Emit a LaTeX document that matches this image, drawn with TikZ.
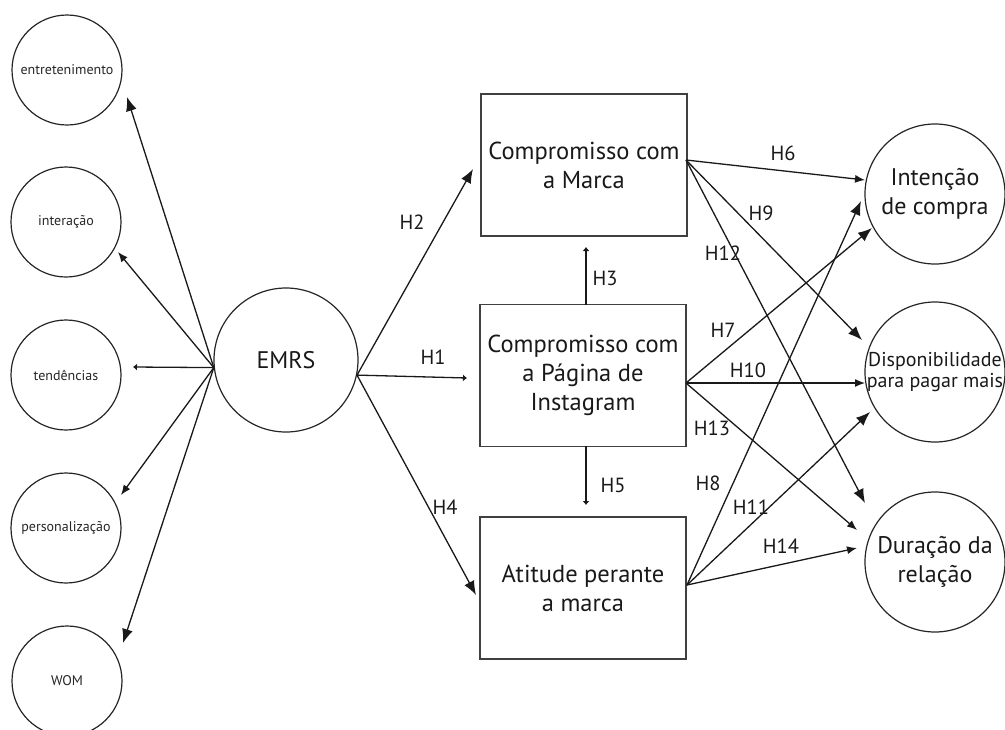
\documentclass[tikz,border=0pt]{standalone}
\usepackage{fontspec}
\setmainfont{PT Sans}
\usetikzlibrary{arrows.meta}
\tikzset{
  smallc/.style={circle, draw=black!85, line width=1.2pt, minimum size=110pt, inner sep=0pt, font=\fontsize{14}{16}\selectfont, text=black!85},
  bigc/.style={circle, draw=black!85, line width=1.2pt, minimum size=140pt, inner sep=0pt, font=\fontsize{24}{29}\selectfont, text=black!90, align=center},
  emrsc/.style={circle, draw=black!85, line width=1.2pt, minimum size=144pt, inner sep=0pt, font=\fontsize{24}{28}\selectfont, text=black!90},
  boxn/.style={rectangle, draw=black!75, line width=1.2pt, minimum width=206pt, minimum height=142pt, inner sep=0pt, font=\fontsize{24.5}{29}\selectfont, text=black!90, align=center},
  hlab/.style={font=\fontsize{20.5}{22}\selectfont, text=black!90, inner sep=0pt},
  arr/.style={line width=1.3pt, draw=black!90, -{Latex[length=14pt,width=11pt]}},
  marr/.style={line width=1.3pt, draw=black!90, -{Latex[length=10pt,width=8pt]}},
  sarr/.style={line width=1.3pt, draw=black!90, -{Latex[length=4pt,width=7pt]}},
}
\newcommand{\zc}[1]{\makebox[0pt][c]{#1}}
\begin{document}
\begin{tikzpicture}[x=1pt,y=-1pt]
\useasboundingbox (0,0) rectangle (1005,729);
% left circles
\node[smallc] (ent) at (67,70) {entretenimento};
\node[smallc] (int) at (66,222) {interação};
\node[smallc] (ten) at (66,375) {tendências};
\node[smallc] (per) at (66,528) {personalização};
\node[smallc] (wom) at (67,681) {WOM};
% EMRS
\node[emrsc] (emrs) at (286,360) {EMRS};
% boxes
\node[boxn] (b1) at (584,165) {Compromisso com\\a Marca};
\node[boxn] (b2) at (583,375.5) {Compromisso com\\a Página de\\Instagram};
\node[boxn] (b3) at (583,588) {Atitude perante\\a marca};
% right circles
\node[bigc] (ic) at (935,194) {\zc{Intenção}\\\zc{de compra}};
\node[bigc, font=\fontsize{20}{21}\selectfont] (dp) at (935,372) {\zc{Disponibilidade}\\\zc{para pagar mais}};
\node[bigc] (dr) at (935,562) {\zc{Duração da}\\\zc{relação}};
% coordinates
\coordinate (eL) at (emrs.186);
\coordinate (eR) at (emrs.-12);
\coordinate (tEnt) at (127,97);
\coordinate (tInt) at (118,252);
\coordinate (tTen) at (133,367);
\coordinate (tPer) at (121,495);
\coordinate (tWom) at (123,643);
\coordinate (tH1) at (467,378);
\coordinate (tH2) at (473,169);
\coordinate (tH4) at (476,595);
\coordinate (b2t) at (586,305);
\coordinate (tH3) at (586,247);
\coordinate (b2b) at (586,446);
\coordinate (tH5) at (586,505);
\coordinate (o1) at (686,160);
\coordinate (o2) at (686,383);
\coordinate (o3) at (687,585);
\coordinate (tH6) at (865,180);
\coordinate (tH9) at (862,340);
\coordinate (tH12) at (865,503);
\coordinate (tH7) at (872,228);
\coordinate (tH10) at (865,383);
\coordinate (tH13) at (857,530);
\coordinate (tH8) at (861,201);
\coordinate (tH11) at (870,412);
\coordinate (tH14) at (857,548);
% left fan
\draw[arr] (eL) -- (tEnt);
\draw[marr] (eL) -- (tInt);
\draw[sarr] (eL) -- (tTen);
\draw[marr] (eL) -- (tPer);
\draw[arr] (eL) -- (tWom);
% EMRS to boxes
\draw[sarr] (eR) -- (tH1);
\draw[arr] (eR) -- (tH2);
\draw[arr] (eR) -- (tH4);
\draw[sarr] (b2t) -- (tH3);
\draw[sarr] (b2b) -- (tH5);
% right fan
\draw[marr] (o1) -- (tH6);
\draw[arr] (o1) -- (tH9);
\draw[arr] (o1) -- (tH12);
\draw[arr] (o2) -- (tH7);
\draw[marr] (o2) -- (tH10);
\draw[marr] (o2) -- (tH13);
\draw[arr] (o3) -- (tH8);
\draw[arr] (o3) -- (tH11);
\draw[marr] (o3) -- (tH14);
% labels
\node[hlab] (l1) at (433,357) {H1};
\node[hlab] (l2) at (412,222) {H2};
\node[hlab] (l3) at (605,278) {H3};
\node[hlab] (l4) at (445,507) {H4};
\node[hlab] (l5) at (613,485) {H5};
\node[hlab] (l6) at (783,153) {H6};
\node[hlab] (l7) at (723,330) {H7};
\node[hlab] (l8) at (708,483) {H8};
\node[hlab] (l9) at (761,213) {H9};
\node[hlab] (l10) at (748,370) {H10};
\node[hlab] (l11) at (751,507) {H11};
\node[hlab] (l12) at (723,253) {H12};
\node[hlab] (l13) at (712,428) {H13};
\node[hlab] (l14) at (781,546) {H14};
\end{tikzpicture}
\end{document}
